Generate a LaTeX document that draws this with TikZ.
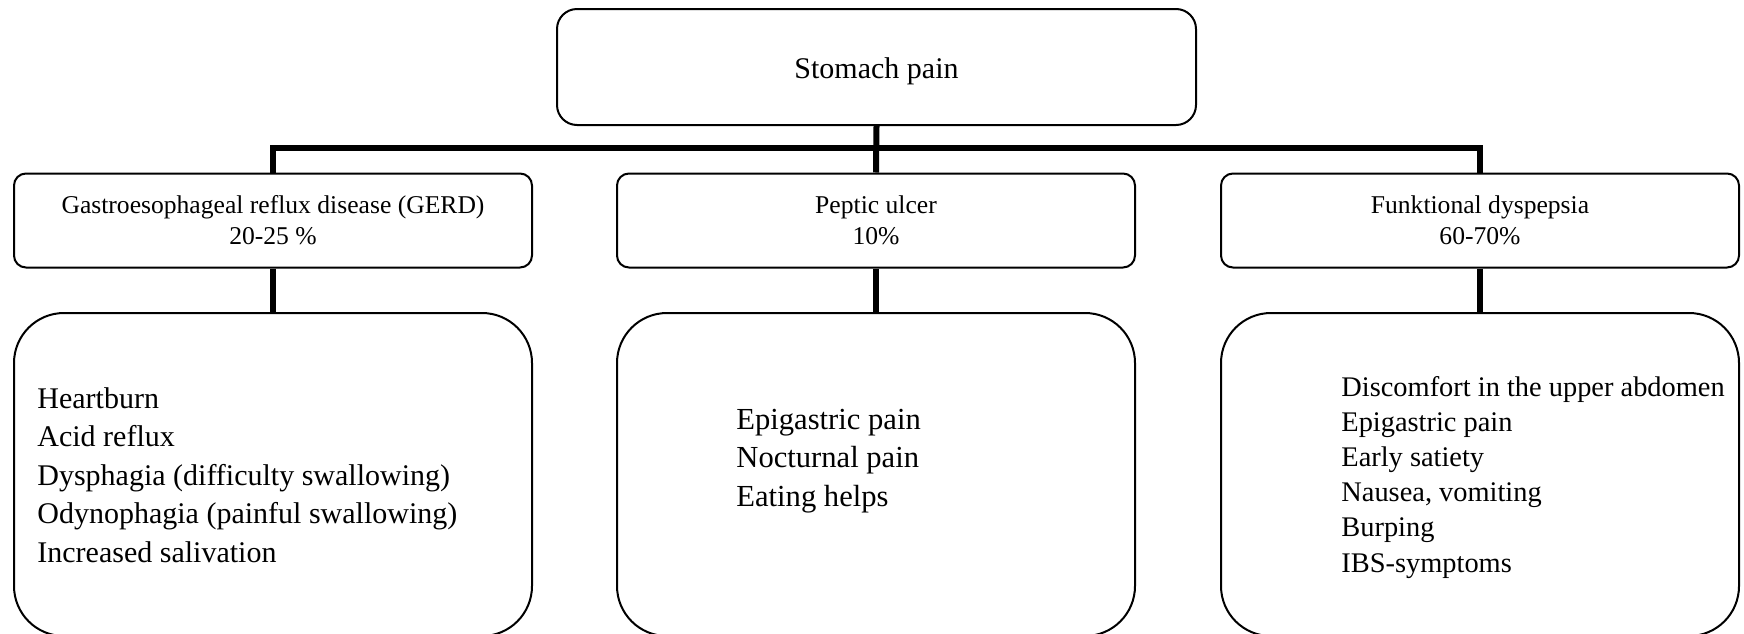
\documentclass[tikz,border=0pt]{standalone}
\usepackage{fontspec}
\setmainfont{Liberation Serif}
\usetikzlibrary{positioning}

\tikzset{
  headbox/.style={draw, line width=1pt, rounded corners=10pt, minimum width=319.5pt, minimum height=58pt, font=\fontsize{15}{18}\selectfont},
  groupbox/.style={draw, line width=1pt, rounded corners=6pt, minimum width=259pt, minimum height=47pt, align=center, font=\fontsize{12.8}{15.5}\selectfont},
  symbox/.style={draw, line width=1pt, rounded corners=25pt, minimum width=259pt, minimum height=161.5pt},
  symlist/.style={inner sep=0pt, align=left, anchor=base west},
  conn/.style={line width=3pt}
}

\begin{document}
\begin{tikzpicture}[x=0.5pt, y=-0.5pt]
\useasboundingbox (0,0) rectangle (1744,633);

\node[headbox] (top) at (876.5,67) {\raisebox{-2.2pt}[\height][\depth]{Stomach pain}};

\node[groupbox] (gerd) at (273,220.5) {Gastroesophageal reflux disease (GERD)\\20-25 \%};
\node[groupbox] (ulcer) at (876,220.5) {Peptic ulcer\\10\%};
\node[groupbox] (fd) at (1480,220.5) {Funktional dyspepsia\\60-70\%};

\node[symbox] (gerdsym) at (273,474.5) {};
\node[symbox] (ulcersym) at (876,474.5) {};
\node[symbox] (fdsym) at (1480,474.5) {};

% lists: anchored on the baseline of their last line
\node[symlist, font=\fontsize{15}{19.25}\selectfont] (gerdlist) at (37,562) {Heartburn\\Acid reflux\\Dysphagia (difficulty swallowing)\\Odynophagia (painful swallowing)\\Increased salivation};
\node[symlist, font=\fontsize{15.3}{19.25}\selectfont] (ulcerlist) at (736,506) {Epigastric pain\\Nocturnal pain\\Eating helps};
\node[symlist, font=\fontsize{14.2}{17.6}\selectfont] (fdlist) at (1341,572) {Discomfort in the upper abdomen\\Epigastric pain\\Early satiety\\Nausea, vomiting\\Burping\\IBS-symptoms};

% tree lines
\coordinate (bar) at (0,148);
\draw[conn] (top.south) -- (ulcer.north);
\draw[conn] (gerd.north) -- (gerd.north |- bar) -- (fd.north |- bar) -- (fd.north);
\draw[conn] (gerd.south) -- (gerdsym.north);
\draw[conn] (ulcer.south) -- (ulcersym.north);
\draw[conn] (fd.south) -- (fdsym.north);
\end{tikzpicture}
\end{document}
